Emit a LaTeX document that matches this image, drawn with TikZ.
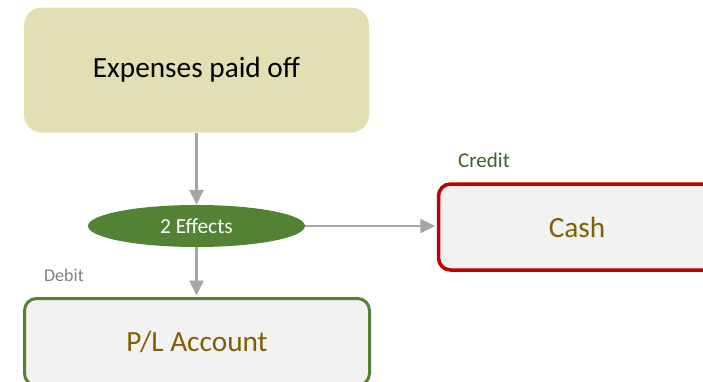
\documentclass[tikz,border=0pt]{standalone}
\usepackage{fontspec}
\setmainfont{Carlito}
\usetikzlibrary{arrows.meta,shapes.geometric}
\definecolor{tanfill}{HTML}{E3DFB4}
\definecolor{boxfill}{HTML}{F2F2F2}
\definecolor{leafgreen}{HTML}{548235}
\definecolor{deepred}{HTML}{C00000}
\definecolor{goldtext}{HTML}{7F6000}
\definecolor{credittext}{HTML}{3F6128}
\definecolor{debittext}{HTML}{808080}
\definecolor{linkgray}{HTML}{A6A6A6}
\tikzset{
  eventbox/.style={fill=tanfill, draw=none, rounded corners=18pt,
    minimum width=345pt, minimum height=125pt, inner sep=0pt,
    font=\fontsize{29.3}{33}\selectfont, text=black},
  acctbox/.style={fill=boxfill, rounded corners=12pt, inner sep=0pt,
    font=\fontsize{29.3}{33}\selectfont, text=goldtext},
  effect/.style={ellipse, fill=leafgreen, draw=none, inner sep=0pt,
    minimum width=217pt, minimum height=42pt,
    font=\fontsize{21.4}{25}\selectfont, text=white},
  link/.style={draw=linkgray, line width=2.5pt,
    -{Triangle[length=15pt,width=14pt]}},
  sidelabel/.style={inner sep=0pt, anchor=center}
}
\begin{document}
\begin{tikzpicture}[x=1pt,y=1pt]
  \useasboundingbox (0,0) rectangle (703,-381);
  \begin{scope}
    \clip (0,0) rectangle (703,-381);
    % the event that triggers the entry
    \node[eventbox] (event) at (196.5,-70) {Expenses paid off};
    % the split into two effects
    \node[effect] (effects) at (196.5,-226) {2 Effects};
    % the two accounts
    \node[acctbox, draw=leafgreen, line width=3pt,
      minimum width=345pt, minimum height=87pt] (pl) at (197,-342) {P/L Account};
    \node[acctbox, draw=deepred, line width=3.5pt,
      minimum width=277pt, minimum height=86pt] (cash) at (577,-227) {Cash};
    % connectors
    \draw[link] (event.south) -- (effects.north);
    \draw[link, shorten >=1.5pt] (effects.south) -- (effects.south |- pl.north);
    \draw[link, shorten >=1.5pt] (effects.east) -- (effects.east -| cash.west);
    % debit / credit labels
    \node[sidelabel, text=debittext, font=\fontsize{18}{21}\selectfont] (debit) at (64,-275) {Debit};
    \node[sidelabel, text=credittext, font=\fontsize{21}{24}\selectfont] (credit) at (484,-160) {Credit};
  \end{scope}
\end{tikzpicture}
\end{document}
